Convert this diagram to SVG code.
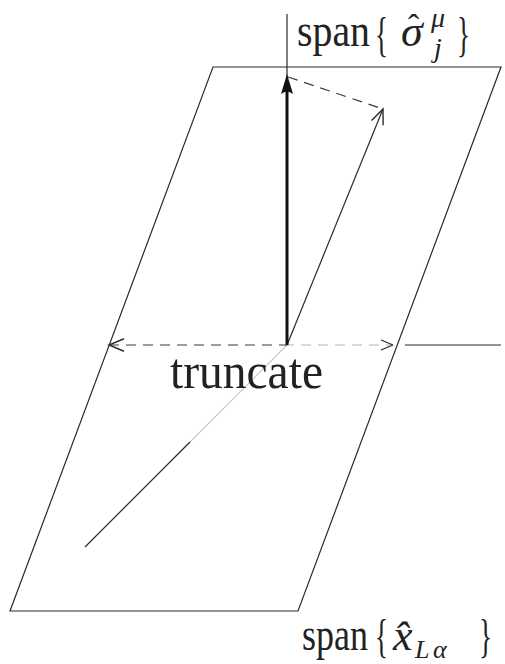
<svg xmlns="http://www.w3.org/2000/svg" width="505" height="664" viewBox="0 0 505 664">
<style>
.ln{stroke:#2a2a2a;stroke-width:1.2;fill:none}
.ds{stroke:#3a3a3a;stroke-width:1.2;fill:none;stroke-dasharray:10 7}
text{fill:#222;font-family:'Liberation Serif','Times New Roman',serif}
</style>
<defs>
<marker id="open" markerUnits="userSpaceOnUse" markerWidth="20" markerHeight="20" refX="0" refY="0" viewBox="-14 -7 16 14" orient="auto-start-reverse">
<path d="M-12,-5 L0,0 L-12,5" fill="none" stroke="#2a2a2a" stroke-width="1.1"/>
</marker>
</defs>
<rect width="505" height="664" fill="#fff"/>
<g id="plane">
<path class="ln" d="M213,67 L501,67 L298,611 L10,611 Z"/>
</g>
<g id="connectors">
<line class="ln" x1="287" y1="14" x2="287" y2="80"/>
<line class="ln" x1="405" y1="345" x2="501" y2="345"/>
<line x1="287" y1="345" x2="190" y2="442" stroke="#c8c8c8" stroke-width="1.2"/>
<line class="ln" x1="190" y1="442" x2="85" y2="547"/>
<line class="ds" x1="109" y1="345" x2="287" y2="345" marker-start="url(#open)"/>
<line x1="287" y1="345" x2="393" y2="345" stroke="#b5b5b5" stroke-width="1.2" stroke-dasharray="10 7" stroke-dashoffset="3"/>
<path d="M393,345 L381,340 M393,345 L381,350" stroke="#2a2a2a" stroke-width="1.1" fill="none"/>
<line class="ds" x1="288" y1="77" x2="383" y2="109"/>
<line class="ln" x1="287" y1="345" x2="383" y2="109" marker-end="url(#open)"/>
<line x1="287" y1="345" x2="287" y2="86" stroke="#111" stroke-width="3"/>
<path d="M287,74 L293,94 Q287,89 281,94 Z" fill="#111"/>
</g>
<g id="label-top">
<text x="297" y="46" font-size="46" textLength="73" lengthAdjust="spacingAndGlyphs">span</text>
<text x="375" y="51" font-size="48" textLength="13" lengthAdjust="spacingAndGlyphs">{</text>
<text font-size="44" font-style="italic"><tspan x="401" y="46">σ</tspan><tspan x="408" y="38" font-size="34" font-style="normal">ˆ</tspan><tspan x="431" y="27" font-size="28">μ</tspan><tspan x="434" y="57" font-size="28">j</tspan></text>
<text x="457" y="51" font-size="48" textLength="13" lengthAdjust="spacingAndGlyphs">}</text>
</g>
<g id="label-truncate">
<text x="170" y="388" font-size="50" textLength="153" lengthAdjust="spacingAndGlyphs">truncate</text>
</g>
<g id="label-bottom">
<text x="302" y="650" font-size="46" textLength="66" lengthAdjust="spacingAndGlyphs">span</text>
<text x="375" y="652" font-size="46" textLength="13" lengthAdjust="spacingAndGlyphs">{</text>
<text font-size="44" font-style="italic"><tspan x="393" y="650">x̂</tspan><tspan x="415" y="658" font-size="26">L</tspan><tspan x="433" y="658" font-size="26">α</tspan></text>
<text x="479" y="652" font-size="46" textLength="13" lengthAdjust="spacingAndGlyphs">}</text>
</g>
</svg>
